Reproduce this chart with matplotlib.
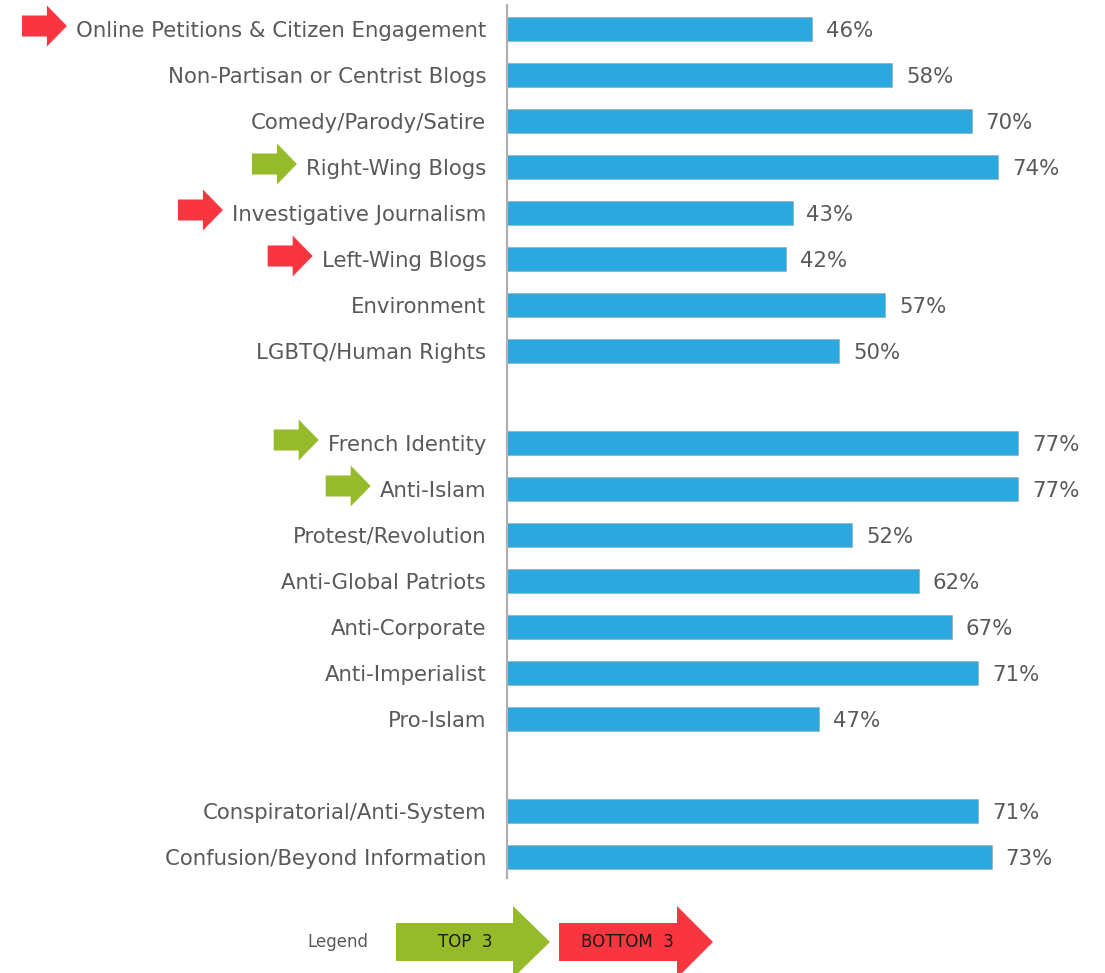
import numpy as np
import matplotlib.pyplot as plt
from matplotlib.patches import Polygon

plt.rcParams['font.family'] = ['DejaVu Sans']

labels = ['Online Petitions & Citizen Engagement', 'Non-Partisan or Centrist Blogs',
          'Comedy/Parody/Satire', 'Right-Wing Blogs', 'Investigative Journalism',
          'Left-Wing Blogs', 'Environment', 'LGBTQ/Human Rights',
          'French Identity', 'Anti-Islam', 'Protest/Revolution', 'Anti-Global Patriots',
          'Anti-Corporate', 'Anti-Imperialist', 'Pro-Islam',
          'Conspiratorial/Anti-System', 'Confusion/Beyond Information']
values = [46, 58, 70, 74, 43, 42, 57, 50,
          77, 77, 52, 62, 67, 71, 47,
          71, 73]
# row slots (gaps between groups)
rows = [0, 1, 2, 3, 4, 5, 6, 7,
        9, 10, 11, 12, 13, 14, 15,
        17, 18]
top3 = ['Right-Wing Blogs', 'French Identity', 'Anti-Islam']
bottom3 = ['Online Petitions & Citizen Engagement', 'Investigative Journalism', 'Left-Wing Blogs']

BLUE = '#29A9E0'
GREEN = '#95BB2A'
RED = '#F9353F'
TXT = '#595959'

W, H = 1105, 973
fig = plt.figure(figsize=(W / 100, H / 100), dpi=100)


def fx(x):
    return x / W


def fy(y):
    return 1 - y / H


ax = fig.add_axes([fx(507), fy(878), fx(598), (878 - 5) / H])
ax.barh(rows, values, height=0.52, color=BLUE, edgecolor='#A0A0A0', linewidth=0.4)
ax.set_xlim(0, 598 / 6.64)
ax.set_ylim(18.46, -0.52)
for s in ['top', 'right', 'bottom']:
    ax.spines[s].set_visible(False)
ax.spines['left'].set_color('#B0B0B0')
ax.spines['left'].set_linewidth(1.6)
ax.set_xticks([])
ax.set_yticks(rows)
ax.set_yticklabels(labels, fontsize=15.3, color=TXT)
ax.tick_params(axis='y', length=0, pad=15)

for r, v in zip(rows, values):
    ax.text(v + 2.1, r + 0.05, f'{v}%', va='center', ha='left', fontsize=15.3, color=TXT)


def arrow(x0, x1, xh, yc, hb, hh, color):
    # x in px from left, y in px from top
    pts = [(x0, yc - hb), (xh, yc - hb), (xh, yc - hh), (x1, yc),
           (xh, yc + hh), (xh, yc + hb), (x0, yc + hb)]
    fig.patches.append(Polygon([(fx(a), fy(b)) for a, b in pts], closed=True,
                               transform=fig.transFigure, facecolor=color,
                               edgecolor='none'))


fig.canvas.draw()
for r, tl in zip(rows, ax.get_yticklabels()):
    name = tl.get_text()
    if name in top3 or name in bottom3:
        bb = tl.get_window_extent()
        tip = bb.x0 - 9
        yc = 29 + 46 * r - 3
        arrow(tip - 45, tip, tip - 20, yc, 10.5, 20.5, GREEN if name in top3 else RED)

# legend
fig.text(fx(338), fy(942), 'Legend', ha='center', va='center', fontsize=12, color=TXT)
arrow(396, 550, 513, 942, 19, 36, GREEN)
arrow(559, 713, 677, 942, 19, 36, RED)
fig.text(fx(465), fy(942), 'TOP  3', ha='center', va='center', fontsize=12, color='#1A1A1A')
fig.text(fx(627), fy(942), 'BOTTOM  3', ha='center', va='center', fontsize=12, color='#1A1A1A')

fig.savefig('out.png', dpi=100)
